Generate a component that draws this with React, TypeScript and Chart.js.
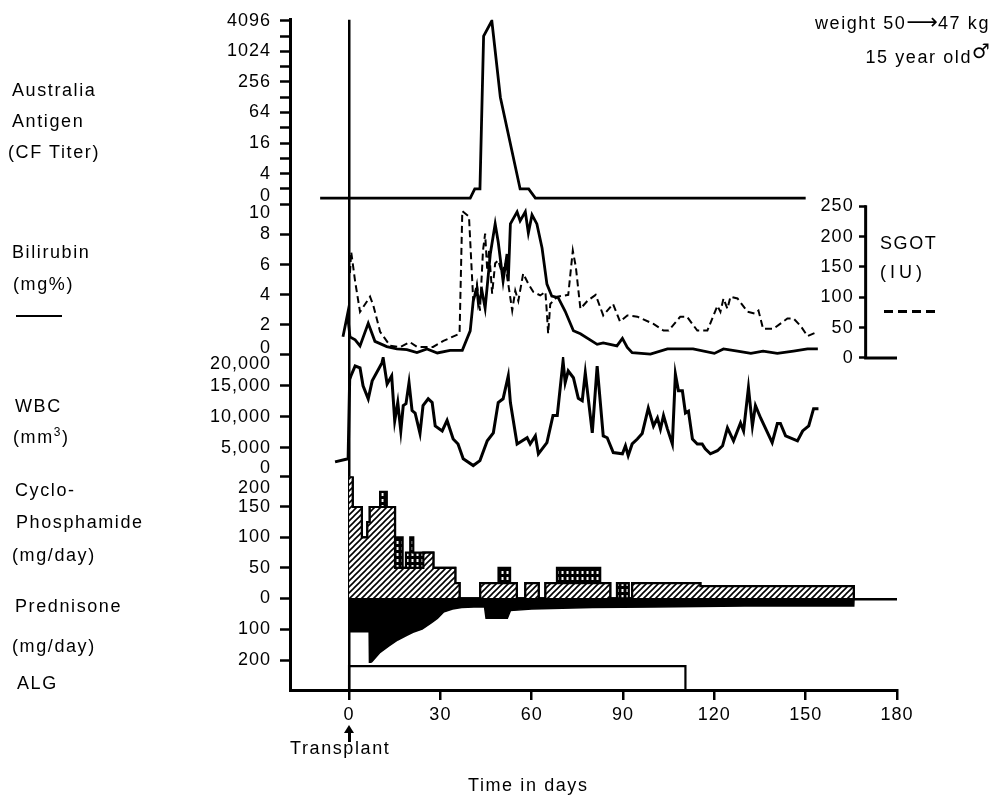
import { useEffect, useRef } from 'react';
import { Chart, registerables } from 'chart.js';

Chart.register(...registerables);

// ---------------- data ----------------
const dayTicks = [0, 30, 60, 90, 120, 150, 180];

// Australia antigen (CF titer); 0 means negative
const antigenDays = [-9.5, 39.8, 41.3, 43.0, 44.2, 46.9, 49.7, 56.2, 59.0, 61.2, 150];
const antigenTiters = [0, 0, 2, 2, 2048, 4096, 128, 2, 2, 0, 0];
const antigenTickTiters = [0, 4, 16, 64, 256, 1024, 4096];

// Bilirubin (mg %)
const biliDays = [-2, -0.5, 0.3, 2, 3.6, 6.3, 8.5, 12.4, 15.7, 19, 22.3, 25.6, 29, 33.2, 37.2, 39.8, 40.8, 42, 42.5, 43.7, 44.7, 46.4, 48, 49, 50.6, 51.9, 52.3, 53, 55.2, 56.2, 57.9, 58.9, 60.1, 61.7, 63.4, 65, 66.6, 68.7, 71, 73.7, 76, 81.5, 83.5, 88, 89.8, 91.4, 93, 99, 104.6, 113, 120, 123, 127.6, 132, 136, 140.7, 146, 150.6, 154];
const biliValues = [1.2, 2.7, 1.2, 1.0, 0.6, 2.1, 0.9, 0.55, 0.4, 0.35, 0.15, 0.4, 0.13, 0.3, 0.3, 1.6, 3.6, 4.4, 3.4, 4.2, 3.1, 6.7, 8.7, 7.5, 4.9, 6.7, 4.9, 8.7, 9.5, 8.9, 9.5, 8.1, 9.3, 8.7, 7.1, 4.7, 3.9, 3.8, 2.9, 1.6, 1.4, 0.7, 0.8, 0.6, 1.1, 0.5, 0.15, 0.05, 0.4, 0.4, 0.1, 0.4, 0.25, 0.1, 0.25, 0.1, 0.25, 0.4, 0.4];
const bilirubinTicks = [0, 2, 4, 6, 8, 10];

// SGOT (IU)
const sgotDays = [0.3, 0.7, 2, 3.6, 6.9, 8, 10.2, 13.5, 16.8, 20, 22.4, 27.6, 31, 36.3, 37.2, 39.4, 40.8, 42, 43, 44, 44.7, 45.4, 46, 47, 48, 49, 50.3, 51.3, 52.3, 53.6, 54.6, 55.6, 57.2, 58.9, 60.5, 62.8, 64.5, 65, 65.4, 66.1, 68.4, 72, 73.5, 74.5, 76, 78.3, 81, 83.5, 86.7, 89, 91.4, 94.7, 100, 103.3, 105, 108.8, 111, 114.4, 117.7, 121, 122, 123, 124.3, 125.3, 127.6, 130.9, 133.5, 134.5, 136, 139.4, 144, 146, 148.3, 150.6, 153.9];
const sgotValues = [140, 175, 126, 76, 101, 86, 43, 20, 18, 26, 18, 18, 28, 40, 242, 233, 94, 122, 78, 177, 205, 144, 177, 106, 156, 161, 139, 156, 122, 78, 111, 94, 139, 122, 109, 103, 109, 73, 40, 89, 101, 104, 177, 150, 81, 94, 104, 70, 89, 60, 70, 68, 56, 45, 45, 68, 68, 45, 45, 86, 76, 98, 81, 101, 98, 76, 73, 78, 48, 48, 65, 65, 53, 36, 43];
const sgotTicks = [0, 50, 100, 150, 200, 250];

// WBC (per mm3)
const wbcDays = [-4.6, -0.3, 0.2, 0.6, 2, 3.6, 4.6, 6.3, 7.6, 10.8, 11.2, 12.5, 14, 15, 16, 17, 17.8, 18.7, 19.7, 20.7, 21.7, 23.3, 24.3, 26, 27.3, 28.3, 30.6, 32.2, 34.2, 35.8, 37.5, 40.8, 43, 45.4, 47.4, 49, 50.6, 52.3, 53, 55.2, 58.5, 59.5, 61.2, 62.2, 65, 67, 68.4, 70.3, 71, 72, 73.7, 75.3, 76.6, 77.6, 79.9, 81.5, 83.5, 84.8, 86.8, 89.8, 90.8, 91.7, 93, 94.7, 96.3, 98.3, 100, 101.3, 102.3, 103.3, 104.6, 106.2, 107.2, 108.2, 109.5, 110.5, 111.5, 112.8, 114.4, 116, 117, 118.7, 121, 122.7, 124.3, 126.3, 128.6, 129.6, 131.2, 132.5, 133.5, 135.2, 139, 140.7, 141.7, 143.4, 147.3, 149, 151, 152.6, 154.2];
const wbcValues = [2700, 3200, 16000, 16600, 18200, 17900, 15000, 12900, 15800, 18700, 19500, 15300, 16600, 9350, 12300, 7700, 11800, 12100, 15500, 11000, 10600, 7300, 11800, 12900, 12300, 8500, 7700, 9400, 6400, 5600, 3200, 2100, 2900, 6100, 7400, 12300, 12900, 16600, 12300, 5600, 6600, 5600, 6900, 4000, 5800, 10200, 10200, 19000, 15500, 17400, 16300, 13000, 12600, 17100, 7400, 18200, 6900, 6600, 4200, 4000, 5300, 3700, 5600, 6400, 7300, 11400, 8500, 9800, 8000, 10200, 8000, 5600, 16900, 14200, 14200, 10600, 10900, 6400, 5600, 5600, 4800, 4000, 4500, 5300, 8200, 6100, 9000, 7700, 14700, 8500, 11800, 9800, 5800, 8900, 8900, 6900, 6100, 7700, 8500, 11300, 11300];
const wbcTicks = [0, 5000, 10000, 15000, 20000];

// Cyclophosphamide (mg/day): dose starting on each day, held until the next day listed
const cycloDays = [0, 1.2, 4.2, 6, 6.8, 10.2, 12.4, 15.1, 17.6, 18.7, 20.1, 21.1, 24.4, 27.7, 34.9, 36.3, 43.1, 49.1, 52.9, 55.1, 57.9, 62.3, 64.5, 68.3, 82.5, 85.8, 88, 91.9, 93, 115.4, 165.8];
const cycloBase = [200, 150, 100, 125, 150, 150, 150, 50, 50, 50, 50, 50, 75, 50, 25, 0, 25, 25, 25, 0, 25, 0, 25, 25, 25, 0, 0, 0, 25, 20, 0];
const cycloTotal = [200, 150, 100, 125, 150, 175, 150, 100, 50, 75, 100, 75, 75, 50, 25, 0, 25, 50, 25, 0, 25, 0, 25, 50, 25, 0, 25, 0, 25, 20, 0];
const cycloTicks = [0, 50, 100, 150, 200];

// Prednisone (mg/day)
const predDays = [0, 6.6, 6.7, 7.5, 10, 13, 16, 19, 21, 24, 27, 29, 31, 34, 37, 41, 44.5, 45, 52, 53, 60, 80, 100, 130, 165.8, 165.9];
const predValues = [108, 108, 210, 205, 177, 155, 135, 120, 110, 100, 80, 65, 45, 35, 30, 28, 28, 65, 65, 40, 35, 30, 28, 25, 25, 0];
const prednisoneTicks = [100, 200];

// ALG course (first and last day)
const algPeriod = [0, 110.5];

// ---------------- layout / style ----------------
const W = 996;
const H = 795;
const FONT = "'Liberation Sans', Arial, Helvetica, sans-serif";
const X_MIN = -19.4;
const X_MAX = 180;
const LEFT_W = 290;
const SGOT_AXIS_DAY = 169.7;
const AG_ZERO = 0.4;
const ALG_BOX = 0.89;

type TickSpec = { value: number; label: string; mark: boolean };

function leftAxis(weight: number, min: number, max: number, ticks: TickSpec[], reverse = false) {
  return {
    type: 'linear',
    position: 'left',
    stack: 'left',
    stackWeight: weight,
    min,
    max,
    reverse,
    afterFit: (s: any) => {
      s.width = LEFT_W;
    },
    afterBuildTicks: (s: any) => {
      s.ticks = ticks.map((t) => ({ value: t.value, label: t.label, mark: t.mark }));
    },
    ticks: {
      autoSkip: false,
      padding: 9,
      color: '#000',
      font: { family: FONT, size: 18 },
      callback: (_v: any, i: number, arr: any[]) => arr[i].label,
    },
    grid: {
      drawOnChartArea: false,
      tickLength: 10,
      tickWidth: 2.5,
      tickColor: (c: any) => (c.tick && c.tick.mark ? '#000' : 'rgba(0,0,0,0)'),
    },
    border: { display: true, color: '#000', width: 3 },
  };
}

const fmt = (v: number) => v.toLocaleString('en-US');

function makeHatch(ctx: CanvasRenderingContext2D) {
  const c = document.createElement('canvas');
  c.width = 6;
  c.height = 6;
  const g = c.getContext('2d')!;
  g.fillStyle = '#fff';
  g.fillRect(0, 0, 6, 6);
  g.strokeStyle = '#000';
  g.lineWidth = 1.6;
  g.beginPath();
  g.moveTo(0, 6);
  g.lineTo(6, 0);
  g.moveTo(-1, 1);
  g.lineTo(1, -1);
  g.moveTo(5, 7);
  g.lineTo(7, 5);
  g.stroke();
  return ctx.createPattern(c, 'repeat');
}

function makeDots(ctx: CanvasRenderingContext2D) {
  const c = document.createElement('canvas');
  c.width = 5;
  c.height = 6;
  const g = c.getContext('2d')!;
  g.fillStyle = '#000';
  g.fillRect(0, 0, 5, 6);
  g.fillStyle = '#fff';
  g.fillRect(1.5, 1, 2, 3);
  return ctx.createPattern(c, 'repeat');
}

const decorPlugin = {
  id: 'decor',
  beforeDraw(chart: any) {
    chart.ctx.letterSpacing = '1px';
  },
  afterDatasetsDraw(chart: any) {
    const { ctx, scales } = chart;
    const x = scales.x;
    const yc = scales.yCyc;
    const ys = scales.ySGOT;
    ctx.save();
    ctx.strokeStyle = '#000';
    ctx.lineWidth = 2.5;
    ctx.beginPath();
    ctx.moveTo(x.getPixelForValue(0), yc.getPixelForValue(0) + 1);
    ctx.lineTo(x.getPixelForValue(X_MAX), yc.getPixelForValue(0) + 1);
    ctx.stroke();
    const ax = x.getPixelForValue(SGOT_AXIS_DAY);
    ctx.lineWidth = 3;
    ctx.beginPath();
    ctx.moveTo(ax, ys.getPixelForValue(sgotTicks[sgotTicks.length - 1]) - 1);
    ctx.lineTo(ax, ys.getPixelForValue(0));
    ctx.lineTo(x.getPixelForValue(X_MAX), ys.getPixelForValue(0));
    ctx.stroke();
    ctx.restore();
  },
};

const pts = (xs: number[], ys: number[], f: (v: number) => number = (v) => v) =>
  xs.map((x, i) => ({ x, y: f(ys[i]) }));

const LABELS: { t: string; x: number; y: number }[] = [
  { t: 'Australia', x: 12, y: 90 },
  { t: 'Antigen', x: 12, y: 121 },
  { t: '(CF Titer)', x: 8, y: 152 },
  { t: 'Bilirubin', x: 12, y: 252 },
  { t: '(mg%)', x: 13, y: 284 },
  { t: 'WBC', x: 15, y: 406 },
  { t: 'Cyclo-', x: 15, y: 490 },
  { t: 'Phosphamide', x: 16, y: 522 },
  { t: '(mg/day)', x: 12, y: 555 },
  { t: 'Prednisone', x: 15, y: 606 },
  { t: '(mg/day)', x: 12, y: 646 },
  { t: 'ALG', x: 17, y: 683 },
  { t: 'SGOT', x: 880, y: 243 },
  { t: 'Transplant', x: 290, y: 748 },
  { t: 'Time in days', x: 468, y: 785 },
];

export default function App() {
  const ref = useRef<HTMLCanvasElement | null>(null);

  useEffect(() => {
    const canvas = ref.current;
    if (!canvas) return;
    const ctx = canvas.getContext('2d')!;
    const hatch = makeHatch(ctx);
    const dots = makeDots(ctx);

    const agTicks: TickSpec[] = [];
    for (let k = 1; k <= 12; k++) {
      const t = 2 ** k;
      agTicks.push({ value: k, label: antigenTickTiters.includes(t) ? String(t) : '', mark: true });
    }
    agTicks.push({ value: AG_ZERO + 0.12, label: String(antigenTickTiters[0]), mark: false });

    const biliTicks: TickSpec[] = bilirubinTicks.map((v) => ({
      value: v,
      label: v === 0 || v === 10 ? '' : String(v),
      mark: true,
    }));
    biliTicks.push({ value: 0.45, label: String(bilirubinTicks[0]), mark: false });
    biliTicks.push({ value: 9.45, label: String(bilirubinTicks[bilirubinTicks.length - 1]), mark: false });

    const wTicks: TickSpec[] = wbcTicks
      .filter((v) => v > 0 && v < 20000)
      .map((v) => ({ value: v, label: fmt(v), mark: true }));
    wTicks.push({ value: 1774, label: fmt(wbcTicks[0]), mark: false });
    wTicks.push({ value: 18548, label: fmt(wbcTicks[wbcTicks.length - 1]), mark: false });

    const cTicks: TickSpec[] = cycloTicks.map((v) => ({ value: v, label: v === 200 ? '' : String(v), mark: true }));
    cTicks.push({ value: 181, label: String(cycloTicks[cycloTicks.length - 1]), mark: false });

    const pTicks: TickSpec[] = prednisoneTicks.map((v) => ({ value: v, label: String(v), mark: true }));

    const algRect = [
      { x: algPeriod[0], y: 0 },
      { x: algPeriod[0], y: ALG_BOX },
      { x: algPeriod[1], y: ALG_BOX },
      { x: algPeriod[1], y: 0 },
    ];

    const chart = new Chart(canvas, {
      type: 'line',
      data: {
        datasets: [
          {
            label: 'Australia antigen',
            data: pts(antigenDays, antigenTiters, (t) => (t > 0 ? Math.log2(t) : AG_ZERO)),
            yAxisID: 'yAg',
            borderWidth: 2.8,
          },
          { label: 'Bilirubin', data: pts(biliDays, biliValues), yAxisID: 'yBili', borderWidth: 2.8 },
          {
            label: 'SGOT',
            data: pts(sgotDays, sgotValues),
            yAxisID: 'ySGOT',
            borderWidth: 2,
            borderDash: [7, 4],
          },
          { label: 'WBC', data: pts(wbcDays, wbcValues), yAxisID: 'yWBC', borderWidth: 3 },
          {
            label: 'Cyclophosphamide extra',
            data: pts(cycloDays, cycloTotal),
            yAxisID: 'yCyc',
            stepped: true,
            fill: 'origin',
            backgroundColor: dots as any,
            borderWidth: 2.2,
            order: 10,
          },
          {
            label: 'Cyclophosphamide',
            data: pts(cycloDays, cycloBase),
            yAxisID: 'yCyc',
            stepped: true,
            fill: 'origin',
            backgroundColor: hatch as any,
            borderWidth: 2.2,
            order: 9,
          },
          {
            label: 'Prednisone',
            data: pts(predDays, predValues),
            yAxisID: 'yPred',
            fill: 'origin',
            backgroundColor: '#000',
            borderWidth: 1.5,
          },
          { label: 'ALG', data: algRect, yAxisID: 'yALG', borderWidth: 2.2 },
        ] as any,
      },
      options: {
        animation: false,
        responsive: false,
        devicePixelRatio: 1,
        events: [],
        layout: { padding: { left: 0, right: 99, top: 18, bottom: 0 } },
        plugins: { legend: { display: false }, tooltip: { enabled: false } },
        elements: {
          point: { radius: 0 },
          line: { tension: 0, borderColor: '#000', borderJoinStyle: 'miter', borderCapStyle: 'butt' },
        },
        scales: {
          x: {
            type: 'linear',
            position: 'bottom',
            min: X_MIN,
            max: X_MAX,
            afterFit: (s: any) => {
              s.height = H - 690;
            },
            afterBuildTicks: (s: any) => {
              s.ticks = dayTicks.map((v) => ({ value: v }));
            },
            ticks: {
              autoSkip: false,
              maxRotation: 0,
              color: '#000',
              padding: 4,
              font: { family: FONT, size: 18 },
              callback: (v: any) => String(v),
            },
            grid: {
              color: (c: any) => (c.tick && c.tick.value === 0 ? '#000' : 'rgba(0,0,0,0)'),
              lineWidth: 2.5,
              tickColor: '#000',
              tickLength: 10,
              tickWidth: 2.5,
            },
            border: { color: '#000', width: 3 },
          },
          yALG: { ...leftAxis(27, 0, 1, []) },
          yPred: { ...leftAxis(65, 0, 209.7, pTicks, true) },
          yCyc: { ...leftAxis(122, 0, 200, cTicks) },
          yWBC: { ...leftAxis(120, 322, 19677, wTicks) },
          yBili: { ...leftAxis(156, -0.132, 10.199, biliTicks) },
          yAg: { ...leftAxis(182, 0.19, 12.065, agTicks) },
          ySGOT: {
            type: 'linear',
            position: { x: SGOT_AXIS_DAY },
            min: -547.7,
            max: 557.6,
            afterBuildTicks: (s: any) => {
              s.ticks = sgotTicks.map((v) => ({ value: v }));
            },
            ticks: {
              autoSkip: false,
              color: '#000',
              font: { family: FONT, size: 18 },
              callback: (v: any) => String(v) + '  ',
            },
            grid: { drawOnChartArea: false, tickLength: 7, tickWidth: 2.5, color: '#000' },
            border: { display: false },
          },
        } as any,
      },
      plugins: [decorPlugin as any],
    });
    return () => chart.destroy();
  }, []);

  const txt: any = {
    position: 'absolute',
    fontFamily: FONT,
    fontSize: 18,
    lineHeight: '22px',
    letterSpacing: '1.6px',
    whiteSpace: 'nowrap',
    color: '#000',
  };

  return (
    <div style={{ position: 'fixed', left: 0, top: 0, width: W, height: H, background: '#fff' }}>
      <canvas ref={ref} width={W} height={H} style={{ position: 'absolute', left: 0, top: 0, width: W, height: H }} />
      {LABELS.map((l, i) => (
        <div key={i} style={{ ...txt, left: l.x, top: l.y - 11 }}>
          {l.t}
        </div>
      ))}
      <div style={{ ...txt, left: 13, top: 437 - 11 }}>
        (mm<sup style={{ fontSize: 12, lineHeight: 0 }}>3</sup>)
      </div>
      <div style={{ ...txt, left: 880, top: 272 - 11, letterSpacing: '4px' }}>(IU)</div>
      <div style={{ position: 'absolute', left: 16, top: 315, width: 46, height: 2, background: '#000' }} />
      <div
        style={{
          position: 'absolute',
          left: 884,
          top: 310,
          width: 54,
          height: 2.5,
          background: 'repeating-linear-gradient(to right, #000 0 9px, transparent 9px 14px)',
        }}
      />
      <div style={{ ...txt, right: W - 990, top: 22 - 11 }}>
        weight 50
        <span style={{ fontFamily: "'DejaVu Sans', sans-serif", fontSize: 22, letterSpacing: 0 }}>⟶</span>
        47 kg
      </div>
      <div style={{ ...txt, right: W - 990, top: 56 - 11 }}>
        15 year old
        <span
          style={{
            fontFamily: "'DejaVu Sans', sans-serif",
            fontSize: 20,
            fontWeight: 'bold',
            position: 'relative',
            top: -5,
            letterSpacing: 0,
          }}
        >
          ♂
        </span>
      </div>
      <div style={{ position: 'absolute', left: 348, top: 731, width: 2.5, height: 11, background: '#000' }} />
      <div
        style={{
          position: 'absolute',
          left: 344,
          top: 725,
          width: 0,
          height: 0,
          borderLeft: '5px solid transparent',
          borderRight: '5px solid transparent',
          borderBottom: '8px solid #000',
        }}
      />
    </div>
  );
}
